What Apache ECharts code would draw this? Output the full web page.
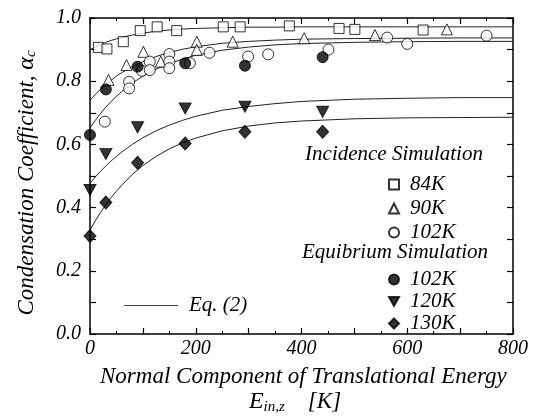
<!DOCTYPE html>
<html>
<head>
<meta charset="utf-8">
<script src="https://cdn.jsdelivr.net/npm/echarts@6/dist/echarts.min.js"></script>
<style>
  html, body { margin: 0; padding: 0; background: #fff; }
  #wrap { position: relative; width: 535px; height: 420px; }
  #chart { position: absolute; left: 0; top: 0; width: 535px; height: 420px; z-index: 2; background: #fff; }
  /* text set in the serif faces so they are loaded before the canvas draws */
  .warm { position: absolute; left: 10px; font-size: 20px; font-style: italic; z-index: 1; }
</style>
</head>
<body>
<div id="wrap">
  <div class="warm" style="top:10px;font-family:'Liberation Serif'">Incidence Simulation 0.8</div>
  <div class="warm" style="top:40px;font-family:serif">Equibrium Simulation 0.8</div>
  <div class="warm" style="top:70px;font-family:'Times New Roman'">Condensation Coefficient 0.8</div>
  <div id="chart"></div>
</div>
<script>
// Incidence simulation, 84 K (open squares)
const inc84X = [16, 32, 63, 95, 127, 164, 252, 284, 377, 471, 501, 630];
const inc84Y = [0.907, 0.902, 0.925, 0.960, 0.972, 0.960, 0.972, 0.972, 0.975, 0.967, 0.964, 0.962];
// Incidence simulation, 90 K (open triangles)
const inc90X = [35, 69, 101, 134, 202, 202, 270, 405, 539, 675];
const inc90Y = [0.804, 0.851, 0.893, 0.862, 0.925, 0.899, 0.925, 0.936, 0.946, 0.964];
// Incidence simulation, 102 K (open circles)
const inc102X = [28, 74, 74, 98, 113, 113, 150, 150, 150, 189, 226, 299, 337, 451, 562, 600, 750];
const inc102Y = [0.672, 0.798, 0.777, 0.833, 0.862, 0.835, 0.886, 0.862, 0.841, 0.857, 0.890, 0.878, 0.885, 0.900, 0.938, 0.918, 0.944];
// Equilibrium simulation energies and coefficients
const eqX = [0, 30, 90, 180, 293, 440];
const eq102Y = [0.630, 0.774, 0.846, 0.857, 0.849, 0.876];
const eq120Y = [0.456, 0.570, 0.654, 0.714, 0.719, 0.703];
const eq130Y = [0.310, 0.416, 0.542, 0.603, 0.640, 0.640];
// Eq. (2) curves, sampled along the energy axis
const curveX = [0, 10, 20, 30, 40, 50, 60, 80, 100, 125, 150, 175, 200, 250, 300, 350, 400, 500, 600, 700, 800];
const curve84 = [0.899, 0.908, 0.916, 0.923, 0.929, 0.934, 0.939, 0.946, 0.952, 0.958, 0.962, 0.965, 0.967, 0.969, 0.971, 0.971, 0.972, 0.972, 0.972, 0.972, 0.972];
const curve90 = [0.740, 0.758, 0.775, 0.790, 0.803, 0.816, 0.827, 0.846, 0.862, 0.878, 0.891, 0.901, 0.909, 0.920, 0.926, 0.930, 0.933, 0.935, 0.936, 0.937, 0.937];
const curve102 = [0.652, 0.676, 0.698, 0.718, 0.736, 0.752, 0.767, 0.794, 0.816, 0.838, 0.856, 0.870, 0.882, 0.898, 0.908, 0.915, 0.919, 0.923, 0.925, 0.926, 0.926];
const curve120 = [0.477, 0.497, 0.515, 0.532, 0.548, 0.562, 0.576, 0.600, 0.621, 0.643, 0.661, 0.676, 0.689, 0.708, 0.720, 0.729, 0.736, 0.743, 0.746, 0.748, 0.748];
const curve130 = [0.329, 0.358, 0.385, 0.409, 0.432, 0.452, 0.471, 0.505, 0.533, 0.562, 0.586, 0.605, 0.620, 0.643, 0.658, 0.668, 0.674, 0.681, 0.684, 0.685, 0.686];

const legendText = {
  inc84: '84K', inc90: '90K', inc102: '102K',
  eq102: '102K', eq120: '120K', eq130: '130K', 'Eq. (2)': 'Eq. (2)'
};

const zip = (xs, ys) => xs.map((x, i) => [x, ys[i]]);

const axisCommon = {
  type: 'value',
  axisLine: { show: true, onZero: false, lineStyle: { color: '#000', width: 1.5 } },
  axisTick: { show: true, inside: true, length: 6, lineStyle: { color: '#000', width: 1.2 } },
  splitLine: { show: false }
};

function scatter(name, x, y, symbol, filled, size) {
  return {
    name: name,
    type: 'scatter',
    data: zip(x, y),
    symbol: symbol,
    symbolSize: size,
    itemStyle: {
      color: filled ? '#000' : '#fff',
      borderColor: '#000',
      borderWidth: 1
    },
    z: 5
  };
}

function curve(ys) {
  return {
    name: 'Eq. (2)',
    type: 'line',
    data: zip(curveX, ys),
    smooth: false,
    showSymbol: false,
    symbol: 'none',
    itemStyle: { color: '#222' },
    lineStyle: { color: '#222', width: 1 },
    z: 2
  };
}

const downTri = 'path://M0,0 L10,0 L5,9 Z';

function legendTextStyle(family) {
  return { fontFamily: family, fontStyle: 'italic', fontSize: 21, color: '#000', padding: [0, 0, 0, 6] };
}

const chart = echarts.init(document.getElementById('chart'), null, { renderer: 'canvas' });
chart.setOption({
  backgroundColor: '#fff',
  animation: false,
  grid: { left: 90, right: 22, top: 18, bottom: 86 },
  xAxis: [
    Object.assign({}, axisCommon, {
      position: 'bottom', min: 0, max: 800, interval: 100,
      minorTick: { show: true, splitNumber: 2, length: 3, lineStyle: { color: '#000', width: 1 } },
      axisLabel: {
        margin: 5,
        fontFamily: 'serif', fontStyle: 'italic', fontSize: 20, color: '#000',
        formatter: v => (v % 200 === 0 ? String(v) : '')
      }
    }),
    Object.assign({}, axisCommon, {
      position: 'top', min: 0, max: 800, interval: 100,
      minorTick: { show: true, splitNumber: 2, length: 3, lineStyle: { color: '#000', width: 1 } },
      axisLabel: { show: false }
    })
  ],
  yAxis: [
    Object.assign({}, axisCommon, {
      position: 'left', min: 0, max: 1, interval: 0.1,
      axisLabel: {
        margin: 9,
        fontFamily: 'Liberation Serif', fontStyle: 'italic', fontSize: 20, color: '#000',
        formatter: v => (Math.round(v * 10) % 2 === 0 ? v.toFixed(1) : '')
      }
    }),
    Object.assign({}, axisCommon, {
      position: 'right', min: 0, max: 1, interval: 0.1,
      axisLabel: { show: false }
    })
  ],
  legend: [
    {
      data: ['inc84', 'inc90', 'inc102'],
      orient: 'vertical', left: 383, top: 169,
      itemWidth: 10, itemHeight: 10, itemGap: 3,
      formatter: n => legendText[n],
      textStyle: legendTextStyle("'Liberation Serif'"),
      selectedMode: false
    },
    {
      data: ['eq102', 'eq120', 'eq130'],
      orient: 'vertical', left: 383, top: 264,
      itemWidth: 10, itemHeight: 10, itemGap: 1,
      formatter: n => legendText[n],
      textStyle: legendTextStyle('Times New Roman'),
      selectedMode: false
    },
    {
      data: [{ name: 'Eq. (2)', icon: 'rect' }],
      orient: 'vertical', left: 119, top: 290,
      itemWidth: 54, itemHeight: 1,
      itemStyle: { color: '#444', borderWidth: 0 },
      formatter: n => legendText[n],
      textStyle: legendTextStyle('serif'),
      selectedMode: false
    }
  ],
  graphic: [
    {
      type: 'text', x: 394, y: 154,
      style: {
        text: 'Incidence Simulation', font: 'italic 21px serif', fill: '#000',
        align: 'center', verticalAlign: 'middle'
      }
    },
    {
      type: 'text', left: 302, top: 242,
      style: {
        text: 'Equibrium Simulation', fontFamily: 'Liberation Serif', fontSize: 21, fontStyle: 'italic', fill: '#000'
      }
    },
    {
      type: 'text', x: 27, y: 183, rotation: Math.PI / 2,
      style: {
        text: '{n|Condensation Coefficient, }{a|α}{s|c}',
        align: 'center', verticalAlign: 'middle',
        rich: {
          n: { fontFamily: 'serif', fontStyle: 'italic', fontSize: 23, fill: '#000' },
          a: { fontFamily: 'serif', fontStyle: 'italic', fontSize: 24, fill: '#000' },
          s: { fontFamily: 'serif', fontStyle: 'italic', fontSize: 15, fill: '#000', padding: [9, 0, 0, 0] }
        }
      }
    },
    {
      type: 'text', left: 100, top: 365,
      style: {
        text: 'Normal Component of Translational Energy',
        font: "italic 23px 'Liberation Serif'", fill: '#000'
      }
    },
    {
      type: 'text', x: 295, y: 402,
      style: {
        text: '{e|E}{s|in,z}{k|    [K]}',
        align: 'center', verticalAlign: 'middle',
        rich: {
          e: { font: 'italic 24px serif', fill: '#000' },
          s: { font: 'italic 15px serif', fill: '#000', padding: [10, 0, 0, 0] },
          k: { font: 'italic 23px serif', fill: '#000' }
        }
      }
    }
  ],
  series: [
    curve(curve84), curve(curve90), curve(curve102), curve(curve120), curve(curve130),
    scatter('inc84', inc84X, inc84Y, 'rect', false, 10),
    scatter('inc90', inc90X, inc90Y, 'triangle', false, 11),
    scatter('inc102', inc102X, inc102Y, 'circle', false, 11),
    scatter('eq102', eqX, eq102Y, 'circle', true, 11),
    scatter('eq120', eqX, eq120Y, downTri, true, [12, 11]),
    scatter('eq130', eqX, eq130Y, 'diamond', true, [12, 13])
  ]
});
</script>
</body>
</html>
